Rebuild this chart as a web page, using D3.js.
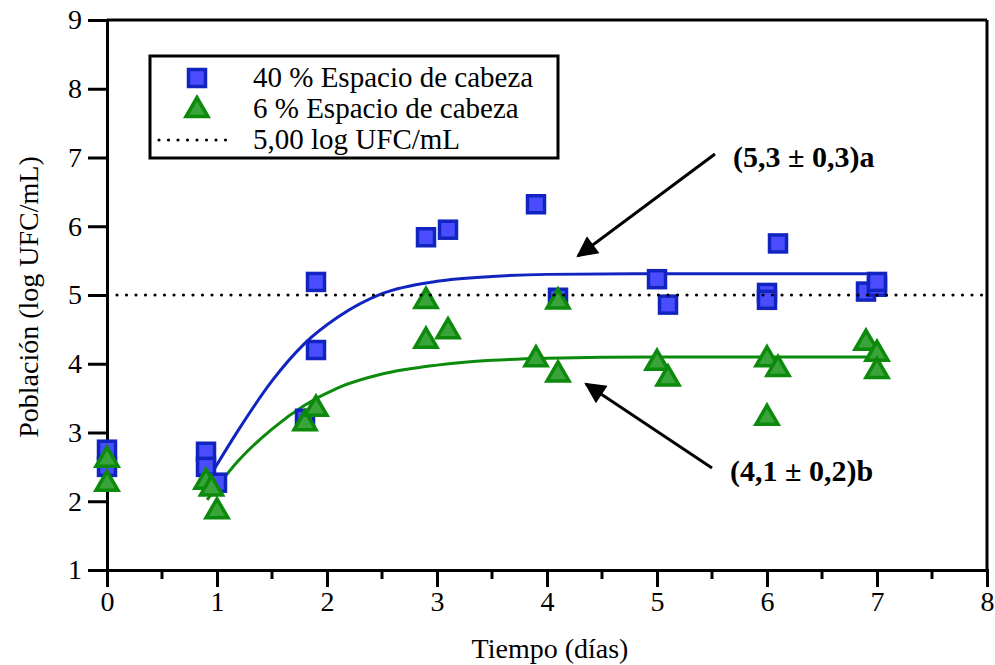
<!DOCTYPE html>
<html><head><meta charset="utf-8">
<script src="https://cdn.jsdelivr.net/npm/d3@7"></script>
<style>body{margin:0;background:#fff}svg{display:block}</style>
</head><body>
<script>
// ---- data ----
const xTicks = [0,1,2,3,4,5,6,7,8];
const yTicks = [1,2,3,4,5,6,7,8,9];
const seriesNames = ["40 % Espacio de cabeza", "6 % Espacio de cabeza", "5,00 log UFC/mL"];
const blueX = [0,0,0.9,0.9,1.0,1.8,1.9,1.9,2.9,3.1,3.9,4.1,5.0,5.1,6.0,6.0,6.1,6.9,7.0,7.0];
const blueY = [2.75,2.5,2.72,2.5,2.27,3.2,4.2,5.19,5.84,5.95,6.32,4.96,5.23,4.86,5.03,4.93,5.75,5.05,5.12,5.19];
const greenX = [0,0,0.9,0.95,1.0,1.8,1.9,2.9,2.9,3.1,3.9,4.1,4.1,5.0,5.1,6.0,6.1,6.0,6.9,7.0,7.0];
const greenY = [2.62,2.27,2.3,2.2,1.87,3.15,3.36,4.93,4.35,4.49,4.08,3.86,4.92,4.03,3.8,4.08,3.94,3.23,4.32,4.16,3.91];
const blueFitX = [0.93,1.2,1.5,1.8,2.1,2.5,3.0,3.5,4.0,5.0,6.0,7.0];
const blueFitY = [2.35,3.05,3.75,4.3,4.68,5.02,5.2,5.27,5.3,5.31,5.31,5.31];
const greenFitX = [0.91,1.2,1.5,1.8,2.1,2.5,3.0,3.5,4.0,5.0,6.0,7.0];
const greenFitY = [2.02,2.6,3.05,3.4,3.65,3.85,3.98,4.05,4.08,4.1,4.1,4.1];
const refLine = 5.0;
const annTop = "(5,3 ± 0,3)a";
const annBottom = "(4,1 ± 0,2)b";

const W = 995, H = 665;
const font = "'Liberation Serif','Times New Roman',serif";
const svg = d3.select("body").append("svg").attr("width", W).attr("height", H);

const x = d3.scaleLinear().domain([0,8]).range([107,987]);
const y = d3.scaleLinear().domain([1,9]).range([570,20]);

const blueStroke = "#1224c0", blueFill = "#4a4cff";
const greenStroke = "#0b8a0b", greenFill = "#3aa33a";

// frame top/right
svg.append("line").attr("x1",x(0)).attr("x2",x(8)).attr("y1",y(9)).attr("y2",y(9)).attr("stroke","#000").attr("stroke-width",3);
svg.append("line").attr("x1",x(8)).attr("x2",x(8)).attr("y1",y(9)).attr("y2",y(1)).attr("stroke","#000").attr("stroke-width",3);

// axes
const xAxis = d3.axisBottom(x).tickValues(xTicks).tickSize(17).tickPadding(4).tickFormat(d3.format("d"));
const gx = svg.append("g").attr("transform",`translate(0,${y(1)})`).call(xAxis);
gx.select(".domain").attr("stroke-width",3);
gx.selectAll(".tick line").attr("stroke-width",3);
gx.selectAll("text").attr("font-family",font).attr("font-size",28).attr("fill","#000");
// minor ticks
const minor = d3.range(0.5,8,1);
svg.append("g").selectAll("line").data(minor).join("line")
  .attr("x1",d=>x(d)).attr("x2",d=>x(d)).attr("y1",y(1)).attr("y2",y(1)+9)
  .attr("stroke","#000").attr("stroke-width",3);

const yAxis = d3.axisLeft(y).tickValues(yTicks).tickSize(19).tickPadding(6).tickFormat(d3.format("d"));
const gy = svg.append("g").attr("transform",`translate(${x(0)},0)`).call(yAxis);
gy.select(".domain").attr("stroke-width",3);
gy.selectAll(".tick line").attr("stroke-width",3);
gy.selectAll("text").attr("font-family",font).attr("font-size",28).attr("fill","#000");

// axis titles
svg.append("text").attr("x",550).attr("y",658).attr("text-anchor","middle")
  .attr("font-family",font).attr("font-size",28).text("Tiempo (días)");
svg.append("text").attr("transform",`translate(38,297) rotate(-90)`).attr("text-anchor","middle")
  .attr("font-family",font).attr("font-size",28).text("Población (log UFC/mL)");

// fit curves
const line = d3.line().x(d=>x(d[0])).y(d=>y(d[1])).curve(d3.curveMonotoneX);
svg.append("path").datum(blueFitX.map((v,i)=>[v,blueFitY[i]])).attr("d",line)
  .attr("fill","none").attr("stroke",blueStroke).attr("stroke-width",3);
svg.append("path").datum(greenFitX.map((v,i)=>[v,greenFitY[i]])).attr("d",line)
  .attr("fill","none").attr("stroke",greenStroke).attr("stroke-width",3);

// markers
function square(g, cx, cy) {
  g.append("rect").attr("x",cx-8.5).attr("y",cy-8.5).attr("width",17).attr("height",17)
    .attr("fill",blueFill).attr("stroke",blueStroke).attr("stroke-width",3.5);
}
function triangle(g, cx, cy) {
  const h = 19, w = 22;
  const pts = [[cx, cy-h*0.6],[cx+w/2, cy+h*0.4],[cx-w/2, cy+h*0.4]];
  g.append("path").attr("d","M"+pts.map(p=>p.join(",")).join("L")+"Z")
    .attr("fill",greenFill).attr("stroke",greenStroke).attr("stroke-width",3.5).attr("stroke-linejoin","miter");
}
const gm = svg.append("g");
blueX.forEach((v,i)=>square(gm, x(v), y(blueY[i])));
greenX.forEach((v,i)=>triangle(gm, x(v), y(greenY[i])));

// reference dotted line
svg.append("line").attr("x1",x(0)+10).attr("x2",x(8)-3).attr("y1",y(refLine)).attr("y2",y(refLine))
  .attr("stroke","#000").attr("stroke-width",3.2).attr("stroke-linecap","round").attr("stroke-dasharray","0 9.5");

// legend
const lg = svg.append("g");
lg.append("rect").attr("x",150).attr("y",56).attr("width",408).attr("height",102)
  .attr("fill","#fff").attr("stroke","#000").attr("stroke-width",3);
square(lg, 197, 78);
triangle(lg, 197, 109);
lg.append("line").attr("x1",159).attr("x2",227).attr("y1",140).attr("y2",140)
  .attr("stroke","#000").attr("stroke-width",3.2).attr("stroke-linecap","round").attr("stroke-dasharray","0 9.5");
[87,118,149].forEach((yy,i)=>{
  lg.append("text").attr("x",253).attr("y",yy).attr("font-family",font).attr("font-size",29).text(seriesNames[i]);
});

// annotations
svg.append("defs").append("marker").attr("id","ah").attr("viewBox","0 0 10 10").attr("refX",9).attr("refY",5)
  .attr("markerWidth",8).attr("markerHeight",7).attr("markerUnits","strokeWidth").attr("orient","auto")
  .append("path").attr("d","M0,0L10,5L0,10Z").attr("fill","#000");
svg.append("line").attr("x1",715).attr("y1",154).attr("x2",578).attr("y2",256)
  .attr("stroke","#000").attr("stroke-width",3).attr("marker-end","url(#ah)");
svg.append("line").attr("x1",712).attr("y1",468).attr("x2",586).attr("y2",384)
  .attr("stroke","#000").attr("stroke-width",3).attr("marker-end","url(#ah)");
svg.append("text").attr("x",733).attr("y",167).attr("font-family",font).attr("font-weight","bold").attr("font-size",30).text(annTop);
svg.append("text").attr("x",730).attr("y",481).attr("font-family",font).attr("font-weight","bold").attr("font-size",30).text(annBottom);
</script>
</body></html>
